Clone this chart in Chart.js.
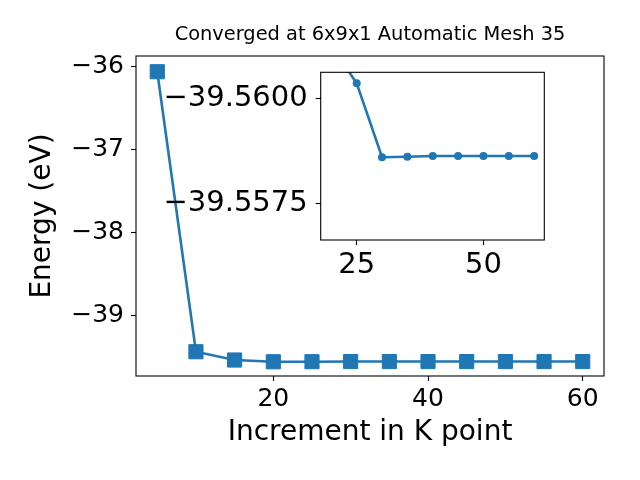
<!DOCTYPE html>
<html>
<head>
<meta charset="utf-8">
<title>Converged at 6x9x1 Automatic Mesh 35</title>
<script src="https://cdn.jsdelivr.net/npm/chart.js@4.4.0/dist/chart.umd.min.js"></script>
<style>
  html, body { margin: 0; padding: 0; background: #fff; }
  .wrap { position: relative; width: 640px; height: 480px; }
  .wrap canvas { position: absolute; left: 0; top: 0; }
</style>
</head>
<body>
<div class="wrap">
  <canvas id="main-chart" width="640" height="480"></canvas>
  <canvas id="inset-chart" width="640" height="480"></canvas>
</div>
<script>
// ========================== Datos
const kPoints = [5, 10, 15, 20, 25, 30, 35, 40, 45, 50, 55, 60];
const energies = [-36.06, -39.44, -39.54, -39.56125, -39.56036, -39.55860, -39.55861,
                  -39.55863, -39.55863, -39.55863, -39.55863, -39.55863];
const mainXTicks = [20, 40, 60];
const mainYTicks = [-39, -38, -37, -36];
const insetXTicks = [25, 50];
const insetYTicks = [-39.56, -39.5575];
const chartTitle = 'Converged at 6x9x1 Automatic Mesh 35';

const BLUE = '#1f77b4';
const FONT = "'DejaVu Sans', sans-serif";
Chart.defaults.color = '#000';
Chart.defaults.font.family = FONT;

const minus = (s) => String(s).replace('-', '\u2212');

// marco completo (4 lados) como en matplotlib + título centrado sobre los ejes
const framePlugin = {
    id: 'frame',
    beforeDraw(chart, args, opts) {
        if (opts.fill) {
            const a = chart.chartArea;
            chart.ctx.save();
            chart.ctx.fillStyle = opts.fill;
            chart.ctx.fillRect(a.left, a.top, a.right - a.left, a.bottom - a.top);
            chart.ctx.restore();
        }
    },
    afterDraw(chart, args, opts) {
        const a = chart.chartArea;
        const ctx = chart.ctx;
        ctx.save();
        ctx.strokeStyle = '#000';
        ctx.lineWidth = 1.1;
        ctx.strokeRect(a.left, a.top, a.right - a.left, a.bottom - a.top);
        if (opts.title) {
            ctx.fillStyle = '#000';
            ctx.font = `19.4px ${FONT}`;
            ctx.textAlign = 'center';
            ctx.textBaseline = 'middle';
            ctx.fillText(opts.title, (a.left + a.right) / 2, 35);
        }
        ctx.restore();
    }
};

const tickGrid = { drawOnChartArea: false, tickLength: 5, tickColor: '#000', tickWidth: 1.1 };

// ========================== Gráfica principal
new Chart(document.getElementById('main-chart'), {
    type: 'scatter',
    data: {
        datasets: [{
            data: kPoints.map((k, i) => ({ x: k, y: energies[i] })),
            showLine: true,
            borderColor: BLUE,
            backgroundColor: BLUE,
            borderWidth: 2.6,
            pointStyle: 'rect',
            pointRadius: 10,
            pointBorderWidth: 1,
            tension: 0
        }]
    },
    options: {
        responsive: false,
        animation: false,
        events: [],
        layout: { padding: { top: 56, right: 36, bottom: 0, left: 0 } },
        plugins: {
            legend: { display: false },
            tooltip: { enabled: false },
            title: { display: false },
            frame: { title: chartTitle }
        },
        scales: {
            x: {
                type: 'linear',
                min: 2.25,
                max: 62.75,
                afterBuildTicks(scale) { scale.ticks = mainXTicks.map(v => ({ value: v })); },
                afterFit(scale) { scale.height = 104; },
                ticks: { font: { size: 25 }, padding: 3, maxRotation: 0, callback: (v) => minus(v) },
                grid: tickGrid,
                border: { display: false },
                title: {
                    display: true,
                    text: 'Increment in K point',
                    font: { size: 28 },
                    padding: { top: 0, bottom: 30 }
                }
            },
            y: {
                min: -39.733,
                max: -35.87,
                afterBuildTicks(scale) { scale.ticks = mainYTicks.map(v => ({ value: v })); },
                afterFit(scale) { scale.width = 136; },
                ticks: { font: { size: 25 }, padding: 7, callback: (v) => minus(v) },
                grid: tickGrid,
                border: { display: false },
                title: {
                    display: true,
                    text: 'Energy (eV)',
                    font: { size: 28 },
                    padding: { top: 26, bottom: 0 }
                }
            }
        }
    },
    plugins: [framePlugin]
});

// ========================== Inserto (zoom de 20 a 60)
new Chart(document.getElementById('inset-chart'), {
    type: 'scatter',
    data: {
        datasets: [{
            data: kPoints.slice(3).map((k, i) => ({ x: k, y: energies[i + 3] })),
            showLine: true,
            clip: 0,
            borderColor: BLUE,
            backgroundColor: BLUE,
            borderWidth: 2.6,
            pointStyle: 'circle',
            pointRadius: 4,
            pointBorderWidth: 0,
            tension: 0
        }]
    },
    options: {
        responsive: false,
        animation: false,
        events: [],
        layout: { padding: { top: 72.3, right: 95.7, bottom: 0, left: 0 } },
        plugins: {
            legend: { display: false },
            tooltip: { enabled: false },
            frame: { fill: '#fff' }
        },
        scales: {
            x: {
                type: 'linear',
                min: 17.9,
                max: 62,
                afterBuildTicks(scale) { scale.ticks = insetXTicks.map(v => ({ value: v })); },
                afterFit(scale) { scale.height = 240; },
                ticks: { font: { size: 29 }, padding: 3, maxRotation: 0 },
                grid: tickGrid,
                border: { display: false }
            },
            y: {
                reverse: true,
                min: -39.56062,
                max: -39.55663,
                afterBuildTicks(scale) { scale.ticks = insetYTicks.map(v => ({ value: v })); },
                afterFit(scale) { scale.width = 320.7; },
                ticks: { font: { size: 29 }, padding: 8, callback: (v) => minus(v.toFixed(4)) },
                grid: tickGrid,
                border: { display: false }
            }
        }
    },
    plugins: [framePlugin]
});
</script>
</body>
</html>
